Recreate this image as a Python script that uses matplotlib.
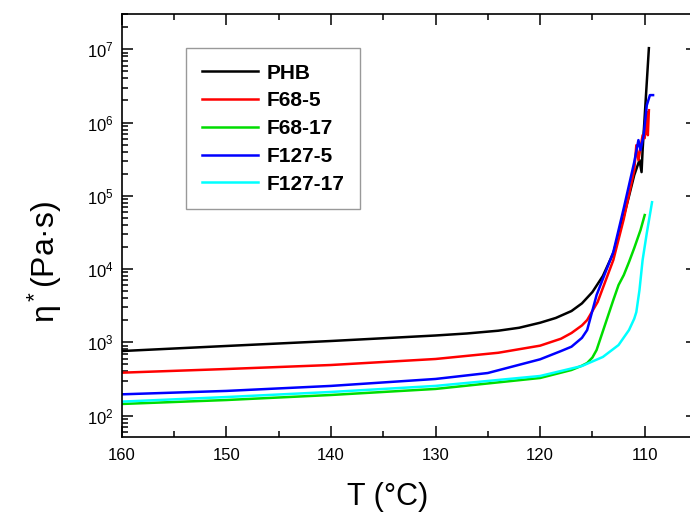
import matplotlib
matplotlib.use('Agg')
import matplotlib.pyplot as plt
from matplotlib.ticker import LogLocator, MultipleLocator, LogFormatterMathtext

plt.rcParams['font.family'] = ['Liberation Sans', 'DejaVu Sans']
plt.rcParams['mathtext.fontset'] = 'custom'
plt.rcParams['mathtext.rm'] = 'Liberation Sans'
plt.rcParams['mathtext.it'] = 'Liberation Sans:italic'
plt.rcParams['mathtext.bf'] = 'Liberation Sans:bold'

# temperature (C) and complex viscosity (Pa.s)
phb_T = [160, 150, 140, 130, 127, 124, 122, 120, 118.5, 117, 116, 115, 114, 113, 112,
         111.5, 111, 110.5, 110.3, 110.2, 109.6]
phb_eta = [760, 891, 1042, 1239, 1320, 1440, 1580, 1850, 2150, 2673, 3400, 4853, 8035,
           16520, 52840, 99080, 191400, 306900, 210400, 418800, 1.035e7]

f68_5_T = [160, 150, 140, 130, 124, 120, 118, 117, 116, 115.5, 114.5, 113, 112, 111,
           110.8, 110.6, 110.2, 110.0, 109.8, 109.7, 109.6]
f68_5_eta = [385, 432, 490, 592, 720, 900, 1120, 1340, 1700, 2014, 3548, 13270, 48310,
             223400, 489800, 306200, 671500, 610900, 1.384e6, 671500, 1.472e6]

f68_17_T = [160, 150, 140, 130, 120, 117, 116, 115.5, 115, 114.6, 113.8, 113.0, 112.5,
            112, 111.5, 111, 110.4, 110.0]
f68_17_eta = [144, 163, 191, 231, 326, 419, 480, 522, 620, 785, 1722, 3776, 6053, 8279,
              12470, 19360, 34040, 54580]

f127_5_T = [160, 150, 140, 130, 125, 120, 118, 117, 116, 115.5, 114.6, 113, 112, 111,
            110.6, 110.4, 110.1, 109.8, 109.5, 109.2]
f127_5_eta = [195, 217, 254, 316, 381, 586, 760, 871, 1150, 1472, 4416, 17060, 67920,
              288400, 575400, 419800, 671500, 1.722e6, 2.366e6, 2.366e6]

f127_17_T = [160, 150, 140, 130, 120, 116, 114, 112.5, 111.5, 111, 110.8, 110.5, 110.2,
             109.8, 109.3]
f127_17_eta = [155, 179, 210, 254, 347, 475, 631, 918, 1472, 2100, 2588, 5164, 13270,
               30970, 81660]

series = [
    ('PHB', phb_T, phb_eta, 'black'),
    ('F68-5', f68_5_T, f68_5_eta, '#ff0000'),
    ('F68-17', f68_17_T, f68_17_eta, '#00dd00'),
    ('F127-5', f127_5_T, f127_5_eta, '#0000ff'),
    ('F127-17', f127_17_T, f127_17_eta, '#00ffff'),
]

fig = plt.figure(figsize=(6.9, 5.15), dpi=100)
fig.patch.set_facecolor('white')
ax = fig.add_axes([121.7 / 690, 78 / 515, 575.3 / 690, 422.7 / 515])

for name, t, eta, col in series:
    ax.plot(t, eta, color=col, lw=1.8, label=name)

ax.set_yscale('log')
ax.set_xlim(160, 105)

ax.xaxis.set_major_locator(MultipleLocator(10))
ax.xaxis.set_minor_locator(MultipleLocator(5))
ax.set_yticks([100, 1e3, 1e4, 1e5, 1e6, 1e7])
ax.yaxis.set_minor_locator(LogLocator(base=10, subs=range(2, 10)))
ax.yaxis.set_major_formatter(LogFormatterMathtext())
ax.set_ylim(51, 3.0e7)

ax.tick_params(which='both', direction='in', top=True, right=True, labelsize=12, width=1.1)
ax.tick_params(which='major', length=8)
ax.tick_params(which='minor', length=4)
ax.tick_params(axis='x', pad=8)
ax.tick_params(axis='y', pad=6)
for sp in ax.spines.values():
    sp.set_linewidth(1.2)

leg = ax.legend(loc='upper left', bbox_to_anchor=(0.112, 0.920), borderaxespad=0,
                fancybox=False, edgecolor='#808080', handlelength=2.7,
                prop={'weight': 'bold', 'size': 15}, labelspacing=0.42,
                borderpad=0.75, handletextpad=0.4)
leg.get_frame().set_linewidth(1.0)

fig.text(388 / 690, 1 - 497 / 515, 'T (°C)', fontsize=22, ha='center', va='center')
fig.text(45 / 690, 1 - 262 / 515, r'$\mathregular{\eta^*}$(Pa·s)', fontsize=23,
         rotation=90, ha='center', va='center')

fig.savefig('out.png', dpi=100, facecolor='white')
